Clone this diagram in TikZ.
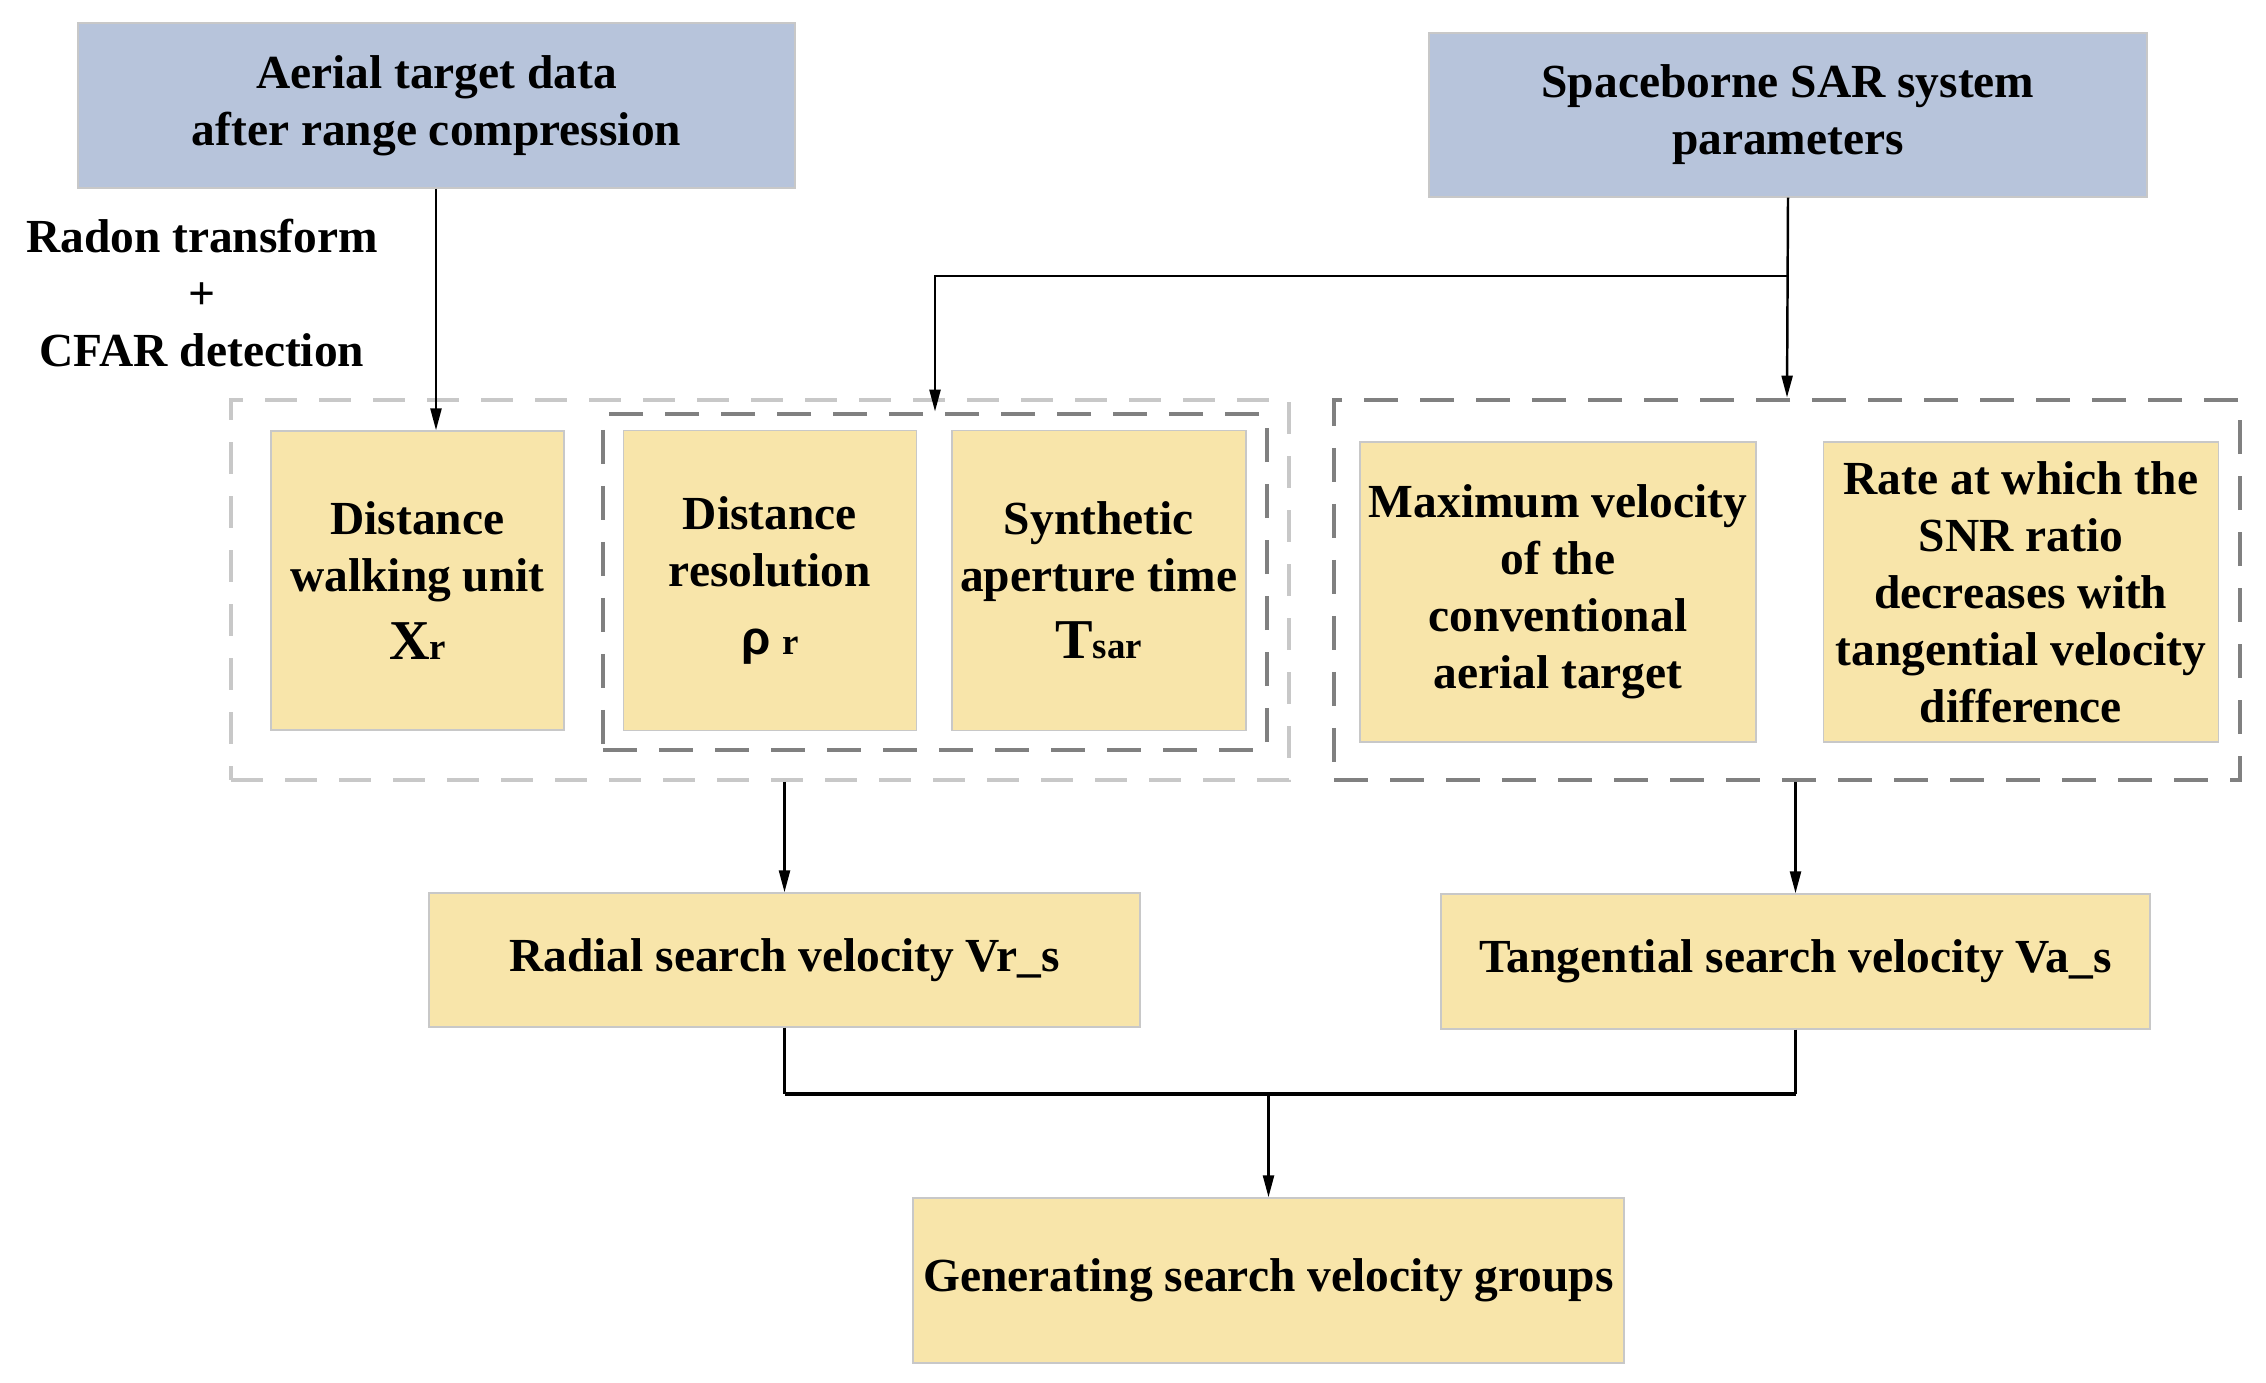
\documentclass[tikz,border=0pt]{standalone}
\usepackage{fontspec}
\setmainfont{Liberation Serif}
\newfontfamily\rhofont{Liberation Sans}
\usetikzlibrary{positioning,arrows.meta}
\definecolor{boxblue}{HTML}{B7C4DB}
\definecolor{boxyellow}{HTML}{F8E5AA}
\definecolor{edgegray}{HTML}{C8C8C8}
\definecolor{lightdash}{HTML}{C8C8C8}
\definecolor{darkdash}{HTML}{808080}
\newcommand\boxfont{\fontsize{13.5}{16.2}\selectfont\bfseries}
\newcommand\bigsym{\fontsize{16}{19}\selectfont}
\newcommand\subsym{\fontsize{10.5}{12}\selectfont}
\tikzstyle{bluebox}=[rectangle, fill=boxblue, draw=edgegray, line width=0.4pt, inner sep=0pt, text centered, align=center]
\tikzstyle{ybox}=[rectangle, fill=boxyellow, draw=edgegray, line width=0.4pt, inner sep=0pt, text centered, align=center]
\tikzstyle{lgroup}=[rectangle, draw=lightdash, line width=1.1pt, dash pattern=on 0.32cm off 0.22cm, inner sep=0pt]
\tikzstyle{dgroup}=[rectangle, draw=darkdash, line width=1.4pt, dash pattern=on 0.34cm off 0.22cm, inner sep=0pt]
\tikzstyle{line}=[-, line width=0.7pt]
\tikzstyle{arr}=[-{Triangle[length=2.2mm,width=1.1mm]}, line width=0.7pt]

\begin{document}
\begin{tikzpicture}[font=\boxfont]
\useasboundingbox (0,0) rectangle (22.66,-13.83);

% inputs
    \node (aerial) [bluebox, minimum width=7.17cm, minimum height=1.65cm] at (4.365,-1.055) {Aerial target data\\after range compression};
    \node (space) [bluebox, minimum width=7.18cm, minimum height=1.64cm] at (17.88,-1.15) {Spaceborne SAR system\\parameters};
    \node (radon) [align=center] at (2.02,-2.93) {Radon transform\\+\\CFAR detection};

% group boxes
    \node (grpL) [lgroup, minimum width=10.58cm, minimum height=3.8cm] at (7.6,-5.9) {};
    \node (grpM) [dgroup, minimum width=6.64cm, minimum height=3.36cm] at (9.35,-5.82) {};
    \node (grpR) [dgroup, minimum width=9.06cm, minimum height=3.8cm] at (17.87,-5.9) {};

% parameters
    \node (dwu) [ybox, minimum width=2.93cm, minimum height=2.99cm] at (4.175,-5.805) {Distance\\walking unit\\[3pt]{\bigsym X}{\subsym r}};
    \node (dres) [ybox, minimum width=2.93cm, minimum height=3cm, right=5.8mm of dwu] {Distance\\resolution\\[3pt]{\rhofont ρ} {\subsym r}};
    \node (syn) [ybox, minimum width=2.94cm, minimum height=3cm, right=3.4mm of dres] {Synthetic\\aperture time\\[3pt]{\bigsym T}{\subsym sar}};
    \node (maxv) [ybox, minimum width=3.96cm, minimum height=3cm] at (15.58,-5.92) {Maximum velocity\\of the\\conventional\\aerial target};
    \node (rate) [ybox, minimum width=3.95cm, minimum height=3cm, right=6.6mm of maxv] {Rate at which the\\SNR ratio\\decreases with\\tangential velocity\\difference};

% search velocities
    \node (radial) [ybox, minimum width=7.11cm, minimum height=1.34cm] at (7.845,-9.6) {Radial search velocity Vr\_s};
    \node (tang) [ybox, minimum width=7.09cm, minimum height=1.35cm] at (17.955,-9.615) {Tangential search velocity Va\_s};
    \node (gen) [ybox, minimum width=7.11cm, minimum height=1.65cm] at (12.685,-12.805) {Generating search velocity groups};

    \coordinate (split) at (17.88,-2.76);
    \coordinate (mrg) at (12.685,-10.94);

   \draw[arr] (aerial.south -| 4.36,0) -- (4.36,0 |- dwu.north);
   \draw[arr] (space.south) -- (grpR.north);
   \draw[arr] (split) -| (grpM.north);

   \draw[arr] (radial.north |- grpL.south) -- (radial.north);
   \draw[arr] (tang.north |- grpR.south) -- (tang.north);

%merge
   \draw[line] (radial.south) -- (radial.south |- mrg);
   \draw[line] (tang.south) -- (tang.south |- mrg);
   \draw[line, line width=1.1pt] (radial.south |- mrg) -- (tang.south |- mrg);
   \draw[arr] (mrg) -- (gen.north);

\end{tikzpicture}
\end{document}
